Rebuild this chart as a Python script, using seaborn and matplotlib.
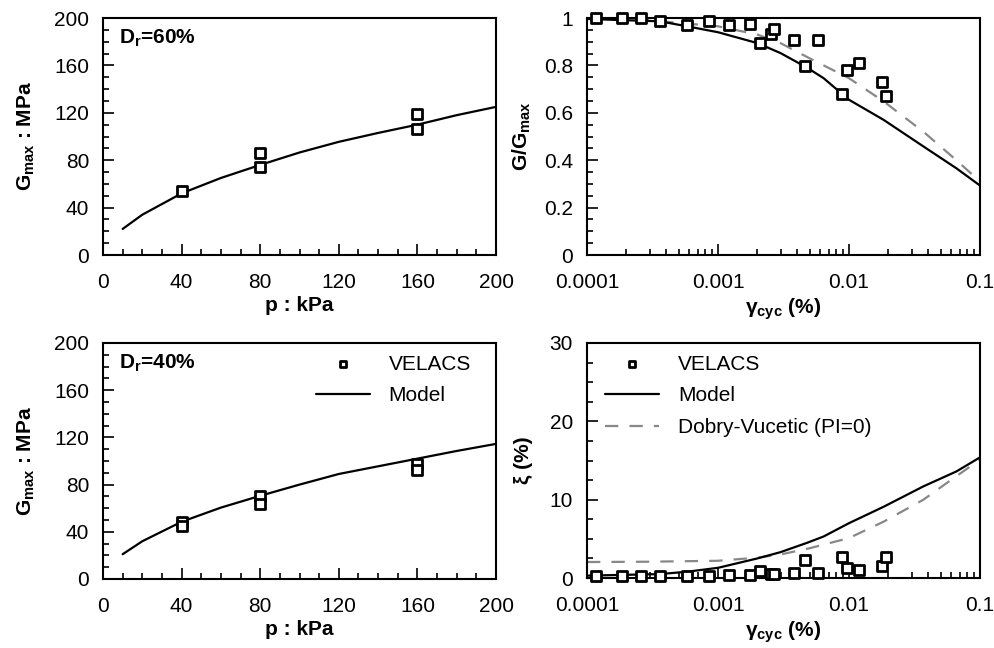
import numpy as np
import matplotlib
matplotlib.use("Agg")
import matplotlib.pyplot as plt
import seaborn as sns
from matplotlib.ticker import MultipleLocator, FixedLocator, LogLocator, NullFormatter

# ---- data ----
# Gmax vs p, Dr = 60 %
p_pts_60 = [40, 80, 80, 160, 160]
g_pts_60 = [54, 86, 74, 119, 106]
p_model = [10, 20, 40, 60, 80, 100, 120, 140, 160, 180, 200]
g_model_60 = [22, 34, 52, 65, 76, 86.5, 95.5, 103, 110, 118, 125]

# Gmax vs p, Dr = 40 %
p_pts_40 = [40, 40, 80, 80, 160, 160]
g_pts_40 = [48, 44.5, 70.5, 63.5, 97.5, 92]
g_model_40 = [21, 32, 48.5, 60.5, 70.5, 80, 89, 95.5, 102, 108.5, 114.5]

# G/Gmax and damping vs cyclic strain (VELACS)
strain_pts = [1.18e-4, 1.85e-4, 2.6e-4, 3.63e-4, 5.8e-4, 8.6e-4, 1.21e-3, 1.77e-3,
              2.08e-3, 2.55e-3, 2.67e-3, 3.83e-3, 5.8e-3, 4.59e-3, 8.85e-3, 9.66e-3,
              0.01186, 0.01787, 0.0193]
ggmax_pts = [1.0, 1.0, 1.0, 0.986, 0.969, 0.986, 0.972, 0.976,
             0.894, 0.932, 0.953, 0.906, 0.906, 0.799, 0.679, 0.779,
             0.81, 0.73, 0.669]
damp_pts = [0.25, 0.25, 0.25, 0.25, 0.3, 0.3, 0.4, 0.4,
            0.85, 0.55, 0.45, 0.64, 0.64, 2.34, 2.68, 1.28,
            1.06, 1.49, 2.68]

strain_model = [1e-4, 3.6e-4, 5.8e-4, 1e-3, 2e-3, 3e-3, 4.8e-3, 6.4e-3, 0.01, 0.0184, 0.037, 0.066, 0.1]
ggmax_model = [0.996, 0.986, 0.965, 0.94, 0.894, 0.852, 0.79, 0.746, 0.655, 0.57, 0.458, 0.366, 0.293]
damp_model = [0.3, 0.5, 0.8, 1.3, 2.5, 3.3, 4.5, 5.3, 7.0, 9.1, 11.7, 13.6, 15.4]

strain_dv = [1e-4, 3e-4, 1e-3, 2e-3, 3e-3, 5e-3, 0.01, 0.0184, 0.037, 0.066, 0.1]
ggmax_dv = [0.997, 0.99, 0.965, 0.93, 0.894, 0.83, 0.746, 0.648, 0.52, 0.40, 0.31]
damp_dv = [2.04, 2.08, 2.2, 2.6, 3.0, 3.8, 5.1, 7.2, 10.0, 13.0, 15.1]

# ---- style ----
sns.set_style("ticks", rc={"text.color": "black", "axes.labelcolor": "black",
                           "xtick.color": "black", "ytick.color": "black",
                           "axes.edgecolor": "black"})
plt.rcParams["font.family"] = ["Liberation Sans", "DejaVu Sans"]
plt.rcParams["mathtext.fontset"] = "custom"
plt.rcParams["mathtext.rm"] = "Liberation Sans"
plt.rcParams["mathtext.bf"] = "Liberation Sans:bold"
plt.rcParams["mathtext.it"] = "Liberation Sans:italic"

fig = plt.figure(figsize=(9.94, 6.48), dpi=100)
W, H = 994, 648
def box(x0, y0, x1, y1):
    return [x0 / W, 1 - y1 / H, (x1 - x0) / W, (y1 - y0) / H]

ax1 = fig.add_axes(box(103, 18, 496, 255))
ax2 = fig.add_axes(box(587, 18, 980, 255))
ax3 = fig.add_axes(box(103, 343, 496, 579))
ax4 = fig.add_axes(box(587, 343, 980, 578))

mk = dict(marker="s", s=45, facecolor="white", edgecolor="black", linewidth=2,
          clip_on=False, zorder=5)
line_kw = dict(color="black", lw=1.6)
dash_kw = dict(color="#888888", lw=1.6, linestyle=(0, (6, 5)))
FS = 15

def style(ax):
    for s in ax.spines.values():
        s.set_linewidth(1.5)
        s.set_visible(True)
    ax.tick_params(which="both", direction="in", top=False, right=False,
                   labelsize=FS, width=1.2)
    ax.tick_params(axis="x", which="both", pad=13)
    ax.tick_params(axis="y", which="both", pad=10)
    ax.tick_params(which="major", length=8)
    ax.tick_params(which="minor", length=4)

# --- top left ---
sns.lineplot(x=p_model, y=g_model_60, ax=ax1, **line_kw)
sns.scatterplot(x=p_pts_60, y=g_pts_60, ax=ax1, **mk)
ax1.text(0.04, 0.915, r"$\mathbf{D_r}$=60%", transform=ax1.transAxes,
         fontsize=FS, fontweight="bold", va="center")

# --- bottom left ---
sns.lineplot(x=p_model, y=g_model_40, ax=ax3, label="Model", **line_kw)
sns.scatterplot(x=p_pts_40, y=g_pts_40, ax=ax3, label="VELACS", **mk)
ax3.text(0.04, 0.915, r"$\mathbf{D_r}$=40%", transform=ax3.transAxes,
         fontsize=FS, fontweight="bold", va="center")

for ax in (ax1, ax3):
    ax.set_xlim(0, 200)
    ax.set_ylim(0, 200)
    ax.xaxis.set_major_locator(MultipleLocator(40))
    ax.xaxis.set_minor_locator(MultipleLocator(10))
    ax.yaxis.set_major_locator(MultipleLocator(40))
    ax.yaxis.set_minor_locator(MultipleLocator(10))
    ax.set_xlabel("p : kPa", fontsize=FS, fontweight="bold", labelpad=3)
    ax.set_ylabel(r"$\mathbf{G_{max}}$ : MPa", fontsize=FS, fontweight="bold", labelpad=12)
    style(ax)

# --- top right ---
sns.lineplot(x=strain_dv, y=ggmax_dv, ax=ax2, **dash_kw)
sns.lineplot(x=strain_model, y=ggmax_model, ax=ax2, **line_kw)
sns.scatterplot(x=strain_pts, y=ggmax_pts, ax=ax2, **mk)
ax2.set_ylim(0, 1)
ax2.yaxis.set_major_locator(FixedLocator([0, 0.2, 0.4, 0.6, 0.8, 1.0]))
ax2.yaxis.set_minor_locator(MultipleLocator(0.05))
ax2.set_yticklabels(["0", "0.2", "0.4", "0.6", "0.8", "1"])
ax2.set_ylabel(r"$\mathbf{G/G_{max}}$", fontsize=FS, fontweight="bold", labelpad=8)

# --- bottom right ---
sns.lineplot(x=strain_dv, y=damp_dv, ax=ax4, label="Dobry-Vucetic (PI=0)", **dash_kw)
sns.lineplot(x=strain_model, y=damp_model, ax=ax4, label="Model", **line_kw)
sns.scatterplot(x=strain_pts, y=damp_pts, ax=ax4, label="VELACS", **mk)
ax4.set_ylim(0, 30)
ax4.yaxis.set_major_locator(MultipleLocator(10))
ax4.yaxis.set_minor_locator(MultipleLocator(2.5))
ax4.set_ylabel("ξ (%)", fontsize=FS, fontweight="bold", labelpad=12)

for ax in (ax2, ax4):
    ax.set_xscale("log")
    ax.set_xlim(1e-4, 0.1)
    ax.xaxis.set_major_locator(FixedLocator([1e-4, 1e-3, 1e-2, 1e-1]))
    ax.xaxis.set_minor_locator(LogLocator(base=10, subs=np.arange(2, 10)))
    ax.xaxis.set_minor_formatter(NullFormatter())
    ax.set_xticklabels(["0.0001", "0.001", "0.01", "0.1"])
    ax.set_xlabel(r"$\mathbf{\gamma_{cyc}}$ (%)", fontsize=FS, fontweight="bold", labelpad=3)
    style(ax)

# legends
def legend(ax, order, x0):
    h, l = ax.get_legend_handles_labels()
    d = dict(zip(l, h))
    ax.legend([d[k] for k in order], order, loc="upper left",
              bbox_to_anchor=(x0, 0.985), frameon=False, fontsize=FS,
              handlelength=2.6, handletextpad=0.9, labelspacing=0.6,
              markerscale=0.6, borderaxespad=0)

legend(ax3, ["VELACS", "Model"], 0.52)
legend(ax4, ["VELACS", "Model", "Dobry-Vucetic (PI=0)"], 0.025)
ax1.get_legend() and ax1.get_legend().remove()
ax2.get_legend() and ax2.get_legend().remove()

fig.savefig("out.png", dpi=100)
